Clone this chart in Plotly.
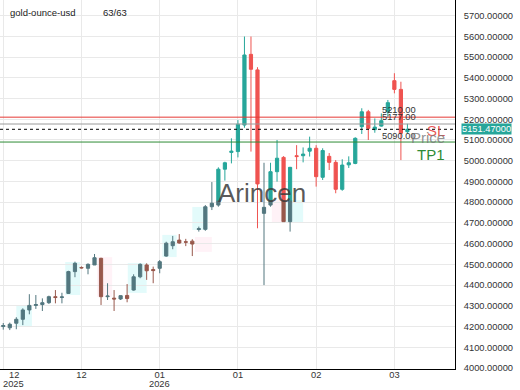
import plotly.graph_objects as go

# ---------------- data ----------------
symbol = "gold-ounce-usd"
counter_text = "63/63"

opens = [4200, 4194, 4216, 4235, 4280, 4302, 4306, 4315, 4344, 4340,
         4360, 4465, 4485, 4481, 4497, 4529, 4344, 4337, 4333, 4350,
         4376, 4440, 4497, 4475, 4481, 4540, 4590, 4617, 4609, 4612,
         4668, 4669, 4778, 4786, 4959, 5040, 5044, 5172, 5513, 5438,
         4746, 4786, 4947, 5016, 4706, 5024, 5024, 5046, 5060, 4920,
         5021, 4992, 4862, 4980, 4987, 5164, 5236, 5150, 5167, 5236,
         5386, 5344, 5140]
highs = [4217, 4219, 4245, 4288, 4356, 4352, 4336, 4349, 4376, 4363,
         4469, 4513, 4490, 4505, 4550, 4532, 4409, 4376, 4350, 4405,
         4452, 4505, 4505, 4489, 4521, 4609, 4637, 4646, 4623, 4621,
         4682, 4786, 4897, 4968, 4995, 5108, 5196, 5599, 5599, 5451,
         4990, 4990, 5100, 5022, 4970, 5075, 5064, 5116, 5075, 5060,
         5037, 5003, 5007, 5021, 5113, 5253, 5245, 5204, 5228, 5293,
         5422, 5381, 5178]
lows = [4185, 4183, 4187, 4207, 4259, 4285, 4275, 4309, 4312, 4312,
        4357, 4438, 4480, 4452, 4497, 4304, 4328, 4275, 4328, 4317,
        4373, 4433, 4425, 4409, 4457, 4537, 4573, 4600, 4588, 4540,
        4658, 4662, 4762, 4778, 4904, 4987, 5016, 5159, 5044, 4674,
        4400, 4778, 4899, 4706, 4658, 4959, 4992, 5020, 4875, 4907,
        4955, 4843, 4855, 4965, 4983, 5129, 5100, 5135, 5164, 5209,
        5325, 5003, 5132]
closes = [4205, 4211, 4235, 4280, 4302, 4306, 4315, 4344, 4340, 4343,
          4465, 4505, 4483, 4500, 4532, 4344, 4347, 4333, 4349, 4335,
          4440, 4500, 4469, 4470, 4513, 4602, 4609, 4603, 4607, 4598,
          4672, 4778, 4795, 4959, 4990, 5046, 5176, 5510, 5441, 4888,
          4775, 4947, 5012, 4706, 4968, 5020, 5032, 5060, 4923, 5049,
          4992, 4862, 4979, 4990, 5108, 5236, 5156, 5162, 5193, 5280,
          5344, 5132, 5151.47]

tick_index = [0, 12, 24, 36, 48, 60]
tick_month = ["12", "12", "01", "01", "02", "03"]
tick_year = {0: "2025", 24: "2026"}

y_ticks = list(range(4000, 5800, 100))

sl_level = 5210.0
entry_level = 5177.0
tp1_level = 5090.0
last_price = 5151.47

# highlight zones: start index, end index, low, high, kind
zone_start = [2.0, 9.5, 14.4, 19.1, 24.4, 29.4, 29.0, 41.2, 42.9]
zone_end = [4.4, 11.8, 16.7, 22.0, 26.6, 32.0, 31.4, 42.9, 46.0]
zone_low = [4199, 4352, 4343, 4362, 4535, 4560, 4666, 4704, 4704]
zone_high = [4304, 4511, 4535, 4506, 4642, 4632, 4777, 4810, 4810]
zone_kind = ["up", "up", "down", "up", "up", "down", "up", "down", "up"]

fade_level = 4806.0   # below this level the candles look muted

# ---------------- figure ----------------
n = len(opens)
x = list(range(n))
UP, DOWN = "#26a69a", "#ef5350"
UP_M, DOWN_M = "#53777f", "#98584c"
FONT = "Arial, Liberation Sans, sans-serif"

# split every candle into the part above the fade level (bright) and below (muted)
bo, bh, bl, bc = [], [], [], []
mo, mh, ml, mc = [], [], [], []
for o, h, l, c in zip(opens, highs, lows, closes):
    top, bot = max(o, c), min(o, c)
    in_bright = top > fade_level
    in_muted = bot < fade_level
    if in_bright:
        bo.append(max(o, fade_level)); bc.append(max(c, fade_level)); bh.append(h)
        bl.append(max(l, fade_level) if in_muted else l)
    else:
        bo.append(None); bc.append(None); bh.append(None); bl.append(None)
    if in_muted:
        mo.append(min(o, fade_level)); mc.append(min(c, fade_level)); ml.append(l)
        mh.append(min(h, fade_level) if in_bright else h)
    else:
        mo.append(None); mc.append(None); mh.append(None); ml.append(None)

fig = go.Figure()
fig.add_trace(go.Candlestick(
    x=x, open=bo, high=bh, low=bl, close=bc,
    increasing=dict(line=dict(color=UP, width=1), fillcolor=UP),
    decreasing=dict(line=dict(color=DOWN, width=1), fillcolor=DOWN)))
fig.add_trace(go.Candlestick(
    x=x, open=mo, high=mh, low=ml, close=mc,
    increasing=dict(line=dict(color=UP_M, width=1), fillcolor=UP_M),
    decreasing=dict(line=dict(color=DOWN_M, width=1), fillcolor=DOWN_M)))

for s, e, lo, hi, k in zip(zone_start, zone_end, zone_low, zone_high, zone_kind):
    fig.add_shape(type="rect", x0=s, x1=e, y0=lo, y1=hi, xref="x", yref="y",
                  line_width=0, layer="below",
                  fillcolor="rgba(0,215,215,0.11)" if k == "up" else "rgba(255,90,150,0.08)")

# level lines
fig.add_shape(type="line", xref="paper", x0=0, x1=1, y0=sl_level, y1=sl_level,
              line=dict(color="#e53935", width=1))
fig.add_shape(type="line", xref="paper", x0=0, x1=1, y0=entry_level, y1=entry_level,
              line=dict(color="#9a9a9a", width=1))
fig.add_shape(type="line", xref="paper", x0=0, x1=1, y0=last_price, y1=last_price,
              line=dict(color="#000000", width=1, dash="3px,3px"))
fig.add_shape(type="line", xref="paper", x0=0, x1=1, y0=tp1_level, y1=tp1_level,
              line=dict(color="#2e8b35", width=1))

ann = []
for lvl, ys in [(sl_level, 7), (entry_level, 7), (tp1_level, 6)]:
    ann.append(dict(x=380 / 455, xref="paper", xanchor="left", y=lvl, yref="y",
                    yanchor="middle", yshift=ys, text=f"{lvl:.2f}", showarrow=False,
                    font=dict(family=FONT, size=9.3, color="#333")))
ann.append(dict(x=447 / 455, xref="paper", xanchor="right", y=sl_level, yref="y",
                yanchor="middle", yshift=-13, text="SL", showarrow=False,
                font=dict(family=FONT, size=15, color="rgba(229,57,53,0.85)")))
ann.append(dict(x=447 / 455, xref="paper", xanchor="right", y=last_price, yref="y",
                yanchor="middle", yshift=-8, text="Price", showarrow=False,
                font=dict(family=FONT, size=15, color="rgba(120,120,120,0.8)")))
ann.append(dict(x=447 / 455, xref="paper", xanchor="right", y=tp1_level, yref="y",
                yanchor="middle", yshift=-12, text="TP1", showarrow=False,
                font=dict(family=FONT, size=15, color="#2e8b35")))
# price tag
ann.append(dict(x=1.0125, xref="paper", xanchor="left", y=last_price, yref="y",
                yanchor="middle", text=f"{last_price:.5f}", showarrow=False,
                bgcolor=UP, borderpad=0,
                font=dict(family=FONT, size=9.3, color="white")))
# header
ann.append(dict(x=8 / 455, xref="paper", xanchor="left", y=1, yref="paper",
                yanchor="middle", yshift=-12.7, text=symbol, showarrow=False,
                font=dict(family=FONT, size=9.5, color="#222")))
ann.append(dict(x=101 / 455, xref="paper", xanchor="left", y=1, yref="paper",
                yanchor="middle", yshift=-12.7, text=counter_text, showarrow=False,
                font=dict(family=FONT, size=9.5, color="#222")))
# watermark
ann.append(dict(x=262 / 455, xref="paper", xanchor="center", y=1 - 193 / 369, yref="paper",
                yanchor="middle", text="Arincen", showarrow=False,
                font=dict(family=FONT, size=26, color="rgba(60,60,60,0.85)")))
# first month label and year labels
ann.append(dict(x=13.7 / 455, xref="paper", xanchor="center", y=0, yref="paper",
                yanchor="middle", yshift=-6, text=tick_month[0], showarrow=False,
                font=dict(family=FONT, size=9.3, color="#333")))
for idx, yr in tick_year.items():
    a = dict(xanchor="center", y=0, yref="paper", yanchor="middle", yshift=-14.5,
             text=yr, showarrow=False, font=dict(family=FONT, size=9.3, color="#333"))
    if idx == 0:
        a.update(x=13.7 / 455, xref="paper")
    else:
        a.update(x=idx, xref="x")
    ann.append(a)

fig.update_layout(
    width=520, height=390, margin=dict(l=0, r=65, t=0, b=21),
    paper_bgcolor="white", plot_bgcolor="white",
    showlegend=False, annotations=ann, hovermode=False,
    font=dict(family=FONT, size=9.3, color="#333"),
    xaxis=dict(range=[-0.5, 69.3], tickvals=tick_index,
               ticktext=[""] + tick_month[1:], showgrid=True, gridcolor="#e9e9e9",
               gridwidth=1, zeroline=False, showline=True, linecolor="black",
               linewidth=1, ticks="", rangeslider=dict(visible=False),
               ticklabelstandoff=-3,
               tickfont=dict(family=FONT, size=9.3, color="#333")),
    yaxis=dict(range=[3995.2, 5775.2], side="right", tickvals=y_ticks,
               tickformat=".5f", showgrid=True, gridcolor="#e9e9e9", gridwidth=1,
               zeroline=False, showline=True, linecolor="black", linewidth=1,
               ticks="", ticklabelstandoff=6,
               tickfont=dict(family=FONT, size=9.3, color="#333")),
)

fig.write_html("out.html")
